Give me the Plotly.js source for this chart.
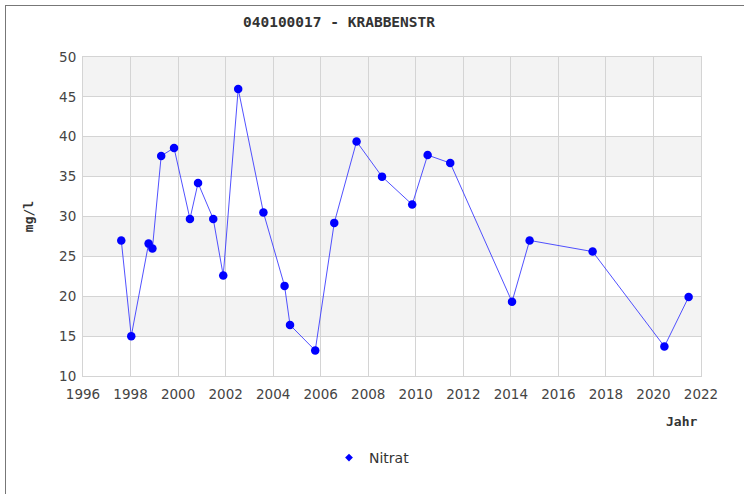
<!DOCTYPE html>
<html>
<head>
<meta charset="utf-8">
<script src="https://cdn.plot.ly/plotly-3.0.1.min.js"></script>
<style>
html,body{margin:0;padding:0;background:#fff;}
#frame{position:absolute;left:5px;top:5px;width:745px;height:495px;border-left:1px solid #777;border-top:1px solid #777;}
#chart{position:absolute;left:0;top:0;width:744px;height:494px;}
</style>
</head>
<body>
<div id="frame"></div>
<div id="chart"></div>
<script>
const chartTitle = "040100017 - KRABBENSTR";
const seriesName = "Nitrat";
const yTitle = "mg/l";
const xTitle = "Jahr";
const years = [1997.61, 1998.03, 1998.76, 1998.92, 1999.29, 1999.83, 2000.50, 2000.84, 2001.48, 2001.90,
               2002.53, 2003.59, 2004.48, 2004.71, 2005.77, 2006.57, 2007.51, 2008.58, 2009.85, 2010.50,
               2011.45, 2014.05, 2014.79, 2017.44, 2020.46, 2021.48];
const nitrat = [27.0, 15.0, 26.6, 26.0, 37.6, 38.6, 29.7, 34.2, 29.7, 22.6,
                46.0, 30.5, 21.3, 16.4, 13.2, 29.2, 39.4, 35.0, 31.5, 37.7,
                36.7, 19.3, 27.0, 25.6, 13.7, 19.9];
const yTicks = [10, 15, 20, 25, 30, 35, 40, 45, 50];
const xTicks = [1996, 1998, 2000, 2002, 2004, 2006, 2008, 2010, 2012, 2014, 2016, 2018, 2020, 2022];

const bands = [];
for (let i = 0; i < yTicks.length - 1; i++) {
  if ((yTicks.length - 2 - i) % 2 === 0) {
    bands.push({type:'rect', xref:'paper', yref:'y', x0:0, x1:1, y0:yTicks[i], y1:yTicks[i+1],
      fillcolor:'#f3f3f3', line:{width:0}, layer:'below'});
  }
}

const traces = [
  {x: years, y: nitrat, mode:'lines+markers', name: seriesName, showlegend:false,
   line:{color:'rgba(50,50,255,0.85)', width:1},
   marker:{color:'#0000ff', size:8.5, symbol:'circle'}},
  {x:[null], y:[null], mode:'markers', name: seriesName, showlegend:true,
   marker:{color:'#0000ff', size:6, symbol:'diamond'}}
];

const layout = {
  width:744, height:494,
  margin:{l:83, r:43, t:57, b:118},
  paper_bgcolor:'rgba(0,0,0,0)', plot_bgcolor:'#ffffff',
  title:{text:chartTitle, x:339/744, xref:'container', xanchor:'center', y:1-22/494, yref:'container', yanchor:'middle',
    font:{family:'DejaVu Sans Mono', size:14.5, color:'#333', weight:'bold'}},
  xaxis:{range:[1996, 2022], tickvals:xTicks, ticktext:xTicks.map(String), showgrid:true, gridcolor:'#d4d4d4', gridwidth:1,
    zeroline:false, showline:true, linecolor:'#d4d4d4', mirror:true, ticks:'', ticklen:0, ticklabelstandoff:6,
    tickfont:{family:'DejaVu Sans', size:13.5, color:'#444'}},
  yaxis:{range:[10, 50], tickvals:yTicks, showgrid:true, gridcolor:'#d4d4d4', gridwidth:1,
    zeroline:false, showline:true, linecolor:'#d4d4d4', mirror:true, ticks:'', ticklen:0, ticklabelstandoff:3,
    tickfont:{family:'DejaVu Sans', size:13.5, color:'#444'},
    title:{text:yTitle, standoff:22, font:{family:'DejaVu Sans Mono', size:13, color:'#333', weight:'bold'}}},
  shapes:bands,
  annotations:[{text:xTitle, xref:'paper', yref:'paper', x:1, y:0, xanchor:'right', yanchor:'top', yshift:-36, xshift:-2, showarrow:false,
    font:{family:'DejaVu Sans Mono', size:13, color:'#333', weight:'bold'}}],
  legend:{orientation:'h', x:0.5, xref:'container', xanchor:'center', y:1-458/494, yref:'container', yanchor:'middle',
    font:{family:'DejaVu Sans', size:14, color:'#333'}},
  showlegend:true
};

Plotly.newPlot('chart', traces, layout, {displayModeBar:false, staticPlot:true});
</script>
</body>
</html>
